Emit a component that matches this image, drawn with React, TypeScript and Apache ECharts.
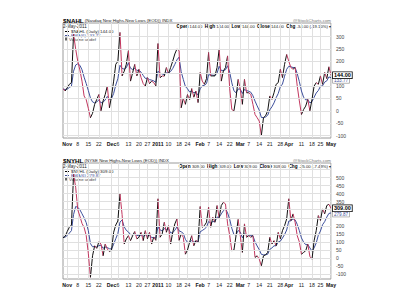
import React, { useEffect, useRef } from "react";
import * as echarts from "echarts";

const dates: string[] = [
  "10/28", "10/29",
  "11/1", "11/2", "11/3", "11/4", "11/5", "11/8", "11/9", "11/10", "11/11", "11/12", "11/15", "11/16", "11/17", "11/18", "11/19", "11/22", "11/23", "11/24", "11/26", "11/29", "11/30",
  "12/1", "12/2", "12/3", "12/6", "12/7", "12/8", "12/9", "12/10", "12/13", "12/14", "12/15", "12/16", "12/17", "12/20", "12/21", "12/22", "12/23", "12/27", "12/28", "12/29", "12/30", "12/31",
  "1/3", "1/4", "1/5", "1/6", "1/7", "1/10", "1/11", "1/12", "1/13", "1/14", "1/18", "1/19", "1/20", "1/21", "1/24", "1/25", "1/26", "1/27", "1/28", "1/31",
  "2/1", "2/2", "2/3", "2/4", "2/7", "2/8", "2/9", "2/10", "2/11", "2/14", "2/15", "2/16", "2/17", "2/18", "2/22", "2/23", "2/24", "2/25", "2/28",
  "3/1", "3/2", "3/3", "3/4", "3/7", "3/8", "3/9", "3/10", "3/11", "3/14", "3/15", "3/16", "3/17", "3/18", "3/21", "3/22", "3/23", "3/24", "3/25", "3/28", "3/29", "3/30", "3/31",
  "4/1", "4/4", "4/5", "4/6", "4/7", "4/8", "4/11", "4/12", "4/13", "4/14", "4/15", "4/18", "4/19", "4/20", "4/21", "4/25", "4/26", "4/27", "4/28", "4/29",
  "5/2",
];

const xTickDates: string[] = ["11/1", "11/8", "11/15", "11/22", "12/1", "12/6", "12/13", "12/20", "12/27", "1/3", "1/10", "1/18", "1/24", "2/1", "2/7", "2/14", "2/22", "3/1", "3/7", "3/14", "3/21", "3/28", "4/1", "4/11", "4/18", "4/25", "5/2"];
const xTickTexts: string[] = ["Nov", "8", "15", "22", "Dec", "6", "13", "20", "27", "2011", "10", "18", "24", "Feb", "7", "14", "22", "Mar", "7", "14", "21", "28", "Apr", "11", "18", "25", "May"];
const boldTicks: string[] = ["Nov", "Dec", "2011", "Feb", "Mar", "Apr", "May"];

const yGridTop: number[] = [300, 250, 200, 150, 100, 50, 0, -50, -100];
const yLabelsTop: number[] = [300, 250, 200, 100, 50, 0, -50, -100];
const yGridBottom: number[] = [550, 500, 450, 400, 350, 300, 250, 200, 150, 100, 50, 0, -50, -100];
const yLabelsBottom: number[] = [500, 450, 400, 350, 200, 150, 100, 50, 0, -50, -100];

const nahl: number[] = [
  90, 80, 93, 107, 114, 310, 250, 200, 165, 120,
  60, 45, 10, -28, -10, 26, 46, 66, 0, 40,
  66, 100, 12, 60, 120, 188, 200, 317, 141, 160,
  188, 243, 120, 154, 188, 141, 168, 134, 110, 100,
  134, 110, 120, 114, 100, 272, 134, 141, 140, 175,
  150, 175, 201, 230, 250, 243, 12, 50, 26, 66,
  45, 90, 55, 80, 33, 155, 120, 107, 130, 236,
  141, 141, 141, 175, 250, 120, 161, 175, 222, 90,
  5, 0, 53, 127, 87, 26, 127, 73, 73, 66,
  26, -15, -28, -42, -100, -28, -20, 0, 60, 46,
  73, 107, 114, 168, 134, 188, 228, 200, 175, 168,
  175, 100, 40, -15, 5, 19, 46, 0, 46, 100,
  114, 107, 141, 107, 155, 130, 178, 144,
];

const nahlEma: number[] = [
  88, 86, 88, 94, 100, 160, 185, 190, 184, 166,
  136, 110, 82, 52, 36, 32, 36, 44, 32, 35,
  44, 58, 46, 50, 70, 104, 130, 184, 172, 168,
  174, 194, 172, 167, 172, 163, 164, 156, 143, 131,
  132, 126, 124, 121, 115, 160, 152, 149, 146, 154,
  153, 159, 171, 188, 206, 217, 158, 127, 98, 89,
  76, 80, 73, 75, 63, 89, 101, 103, 110, 146,
  145, 144, 143, 152, 180, 163, 162, 166, 182, 156,
  113, 81, 73, 88, 88, 70, 86, 82, 79, 75,
  61, 39, 20, 2, -27, -27, -25, -18, 4, 16,
  32, 53, 70, 98, 108, 140, 168, 180, 178, 175,
  175, 150, 118, 80, 55, 44, 45, 32, 37, 55,
  72, 82, 99, 101, 116, 121, 137, 133.77,
];

const nyhl: number[] = [
  125, 135, 165, 191, 205, 520, 440, 300, 260, 215,
  190, 140, 30, -120, 14, 76, 60, 101, 87, 14,
  87, 56, 40, 50, 160, 205, 230, 400, 270, 87,
  119, 139, 108, 139, 165, 119, 129, 160, 108, 170,
  119, 160, 87, 130, 110, 368, 129, 150, 222, 160,
  201, 87, 160, 212, 243, 110, 150, 129, 24, 50,
  98, 139, 76, 110, 98, 320, 191, 201, 222, 316,
  191, 253, 222, 326, 250, 326, 346, 336, 212, 140,
  45, 50, 139, 240, 140, 35, 212, 129, 139, 129,
  139, 4, 14, -7, -48, 14, 20, 35, 129, 87,
  108, 76, 160, 119, 170, 201, 243, 368, 233, 274,
  222, 139, 100, 24, 35, 45, 87, 10, -7, 108,
  170, 264, 233, 305, 274, 326, 334, 309,
];

const nyhlEma: number[] = [
  129, 130, 140, 155, 170, 270, 320, 315, 300, 275,
  250, 220, 170, 90, 70, 72, 68, 77, 80, 61,
  68, 65, 58, 56, 86, 120, 152, 223, 236, 194,
  172, 162, 146, 144, 150, 141, 138, 144, 134, 144,
  137, 143, 127, 128, 123, 193, 175, 168, 183, 176,
  183, 156, 157, 173, 193, 169, 163, 153, 116, 97,
  97, 109, 99, 102, 101, 163, 171, 180, 192, 227,
  217, 227, 225, 254, 253, 274, 294, 306, 280, 240,
  185, 146, 144, 171, 162, 126, 151, 145, 143, 139,
  139, 100, 75, 52, 23, 20, 20, 24, 54, 63,
  76, 76, 100, 105, 124, 146, 174, 230, 231, 243,
  237, 209, 170, 125, 99, 83, 84, 63, 43, 63,
  94, 142, 168, 207, 226, 254, 277, 279.87,
];

const FONT = "Liberation Sans";
const UP = "#111111";
const DOWN = "#c2375f";
const EMA = "#3d4f9c";

function tickFilter(_i: number, val: string) {
  return xTickDates.indexOf(val) >= 0;
}

function xAxisFor(gi: number) {
  return {
    type: "category",
    gridIndex: gi,
    data: dates,
    boundaryGap: false,
    axisLine: { show: false },
    axisTick: { show: false },
    splitLine: { show: true, interval: tickFilter, lineStyle: { color: "#e0e0e0", width: 1 } },
    axisLabel: {
      interval: tickFilter,
      margin: 3,
      fontSize: 5.2,
      fontFamily: FONT,
      color: "#222",
      formatter: (val: string) => {
        const t = xTickTexts[xTickDates.indexOf(val)];
        return boldTicks.indexOf(t) >= 0 ? "{b|" + t + "}" : t;
      },
      rich: { b: { fontWeight: "bold", fontSize: 5.2, fontFamily: FONT, color: "#111" } },
    },
  };
}

function yAxisFor(gi: number, min: number, max: number, labels: number[]) {
  return {
    type: "value",
    gridIndex: gi,
    position: "right",
    min,
    max,
    interval: 10,
    splitLine: { show: false },
    axisLine: { show: false },
    axisTick: { show: false },
    axisLabel: {
      margin: 5,
      fontSize: 5,
      lineHeight: 5,
      fontFamily: FONT,
      color: "#444",
      formatter: (v: number) => (labels.indexOf(v) >= 0 ? String(v) : ""),
    },
  };
}

function priceSeries(gi: number, values: number[]) {
  return {
    type: "custom",
    xAxisIndex: gi,
    yAxisIndex: gi,
    z: 4,
    clip: true,
    data: values.map((v, i) => [i, v]),
    encode: { x: 0, y: 1 },
    renderItem: (params: any, api: any) => {
      const i = params.dataIndex;
      if (i === 0) return { type: "group", children: [] };
      const prev = values[i - 1];
      const cur = values[i];
      const p0 = api.coord([i - 1, prev]);
      const p1 = api.coord([i, cur]);
      return {
        type: "line",
        shape: { x1: p0[0], y1: p0[1], x2: p1[0], y2: p1[1] },
        style: { stroke: cur >= prev ? UP : DOWN, lineWidth: 1 },
      };
    },
  };
}

function gridLineSeries(gi: number, values: number[], ticks: number[]) {
  return {
    type: "line",
    xAxisIndex: gi,
    yAxisIndex: gi,
    z: 1,
    data: values,
    showSymbol: false,
    symbol: "none",
    lineStyle: { opacity: 0 },
    silent: true,
    markLine: {
      silent: true,
      symbol: "none",
      label: { show: false },
      lineStyle: { color: "#e0e0e0", width: 1, type: "solid" },
      data: ticks.map((t) => ({ yAxis: t })),
    },
  };
}

function emaSeries(gi: number, values: number[], lbl: string, dy: number) {
  return {
    type: "line",
    xAxisIndex: gi,
    yAxisIndex: gi,
    z: 3,
    data: values,
    symbol: "none",
    lineStyle: { color: EMA, width: 1 },
    endLabel: {
      show: true,
      formatter: () => lbl,
      distance: 2,
      offset: [0, dy],
      fontSize: 4.6,
      lineHeight: 5,
      fontFamily: FONT,
      color: EMA,
      backgroundColor: "#fff",
      borderColor: "#888",
      borderWidth: 0.6,
      padding: [0, 1, 0, 1],
    },
  };
}

function priceLabelSeries(gi: number, values: number[], lbl: string) {
  return {
    type: "line",
    xAxisIndex: gi,
    yAxisIndex: gi,
    z: 5,
    data: values,
    symbol: "none",
    lineStyle: { opacity: 0 },
    endLabel: {
      show: true,
      formatter: () => lbl,
      distance: 2,
      fontSize: 5.5,
      lineHeight: 6,
      fontWeight: "bold",
      fontFamily: FONT,
      color: "#000",
      backgroundColor: "#fff",
      borderColor: "#000",
      borderWidth: 0.8,
      padding: [0, 1, 0, 1],
    },
  };
}

function header(y0: number, sym: string, name: string, val: string, chg: string, ema: string) {
  const f = (sz: number, w = "normal") => `${w} ${sz}px "${FONT}"`;
  return [
    {
      type: "text", x: 63, y: y0, silent: true,
      style: {
        text: `{s|${sym}}{n| ${name}}`, textVerticalAlign: "middle", font: f(4.4),
        rich: {
          s: { font: f(6.2, "bold"), fill: "#000" },
          n: { font: f(4.4), fill: "#222" },
        },
      },
    },
    {
      type: "text", x: 331, y: y0, silent: true,
      style: { text: "@StockCharts.com", font: f(4.4), fill: "#777", textAlign: "right", textVerticalAlign: "middle" },
    },
    {
      type: "text", x: 63, y: y0 + 6, silent: true,
      style: { text: "2-May-2011", font: f(4.5), fill: "#222", textVerticalAlign: "middle" },
    },
    {
      type: "text", x: 331, y: y0 + 6, silent: true,
      style: {
        text: `{b|Open}{n| ${val}  }{b|High}{n| ${val}  }{b|Low}{n| ${val}  }{b|Close}{n| ${val}  }{b|Chg}{n| ${chg} ▾}`,
        textAlign: "right", textVerticalAlign: "middle", font: f(4.2),
        rich: {
          b: { font: f(4.7, "bold"), fill: "#000" },
          n: { font: f(4.2), fill: "#222" },
        },
      },
    },
    { type: "line", silent: true, shape: { x1: 65, y1: y0 + 11.5, x2: 69, y2: y0 + 11.5 }, style: { stroke: "#000", lineWidth: 1 } },
    {
      type: "text", x: 71, y: y0 + 11.5, silent: true,
      style: { text: `${sym} (Daily) ${val}`, font: f(4.4), fill: "#222", textVerticalAlign: "middle" },
    },
    { type: "line", silent: true, shape: { x1: 65, y1: y0 + 15.5, x2: 69, y2: y0 + 15.5 }, style: { stroke: EMA, lineWidth: 1 } },
    {
      type: "text", x: 71, y: y0 + 15.5, silent: true,
      style: { text: `EMA(6) ${ema}`, font: f(4.4), fill: EMA, textVerticalAlign: "middle" },
    },
    { type: "rect", silent: true, shape: { x: 65, y: y0 + 17.5, width: 3, height: 3 }, style: { fill: "#666" } },
    {
      type: "text", x: 69, y: y0 + 19.3, silent: true,
      style: { text: "Volume undef", font: f(4.4), fill: "#444", textVerticalAlign: "middle" },
    },
  ];
}

export default function App() {
  const ref = useRef<HTMLDivElement>(null);
  useEffect(() => {
    if (!ref.current) return;
    const chart = echarts.init(ref.current, undefined, { renderer: "svg" });
    chart.setOption({
      animation: false,
      backgroundColor: "#fff",
      textStyle: { fontFamily: FONT },
      grid: [
        { left: 63, right: 69, top: 23, height: 115, show: true, borderColor: "#9a9a9a", borderWidth: 1, backgroundColor: "#fff" },
        { left: 63, right: 69, top: 163, height: 116, show: true, borderColor: "#9a9a9a", borderWidth: 1, backgroundColor: "#fff" },
      ],
      xAxis: [xAxisFor(0), xAxisFor(1)],
      yAxis: [yAxisFor(0, -110, 355, yLabelsTop), yAxisFor(1, -130, 590, yLabelsBottom)],
      series: [
        gridLineSeries(0, nahlEma, yGridTop),
        emaSeries(0, nahlEma, "133.77", 2.6),
        priceSeries(0, nahl),
        priceLabelSeries(0, nahl, "144.00"),
        gridLineSeries(1, nyhlEma, yGridBottom),
        emaSeries(1, nyhlEma, "279.87", 1.2),
        priceSeries(1, nyhl),
        priceLabelSeries(1, nyhl, "309.00"),
      ],
      graphic: [
        ...header(20, "$NAHL", "(Nasdaq New Highs-New Lows (EOD)) INDX", "144.00", "-34.00 (-19.10%)", "133.77"),
        ...header(160, "$NYHL", "(NYSE New Highs-New Lows (EOD)) INDX", "309.00", "-25.00 (-7.49%)", "279.87"),
      ],
    });
    return () => chart.dispose();
  }, []);
  return <div ref={ref} style={{ position: "absolute", left: 0, top: 0, width: 400, height: 300 }} />;
}
